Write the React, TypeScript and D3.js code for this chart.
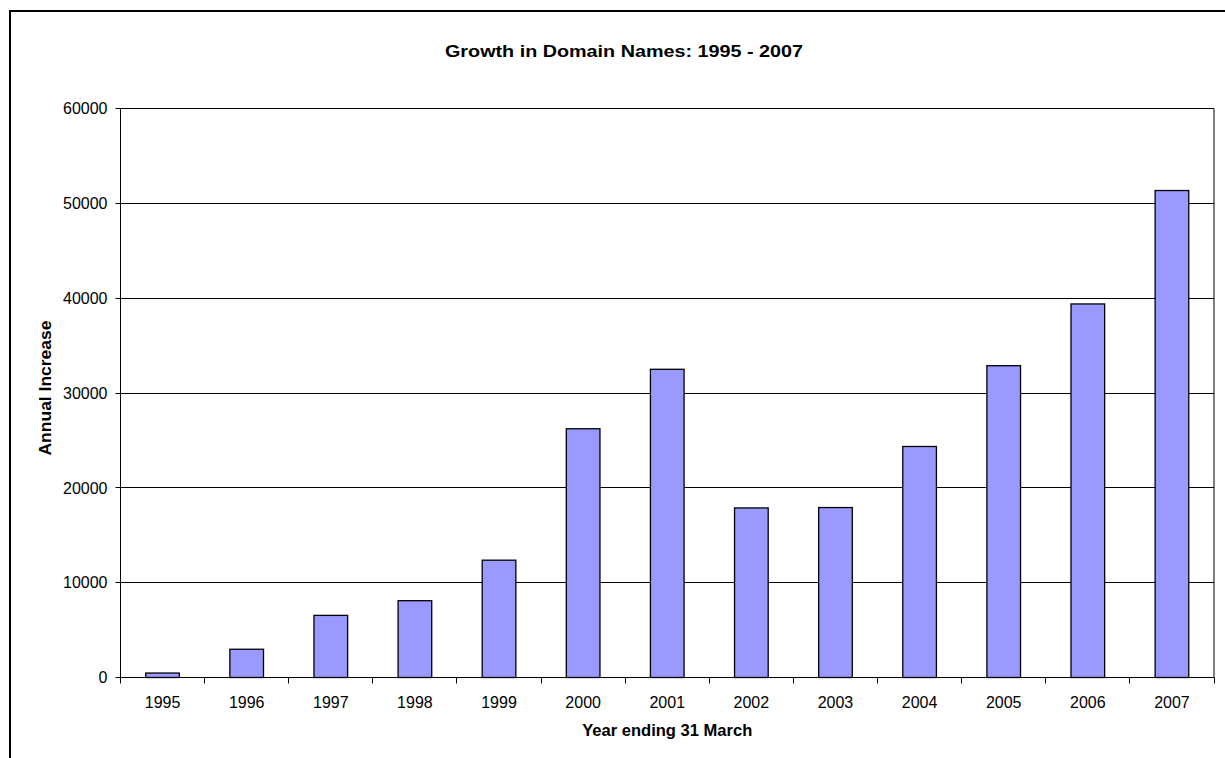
import React from "react";
import * as d3 from "d3";

// Growth in domain names, annual increase per year ending 31 March
const years = ["1995", "1996", "1997", "1998", "1999", "2000", "2001", "2002", "2003", "2004", "2005", "2006", "2007"];
const increases = [470, 2980, 6550, 8100, 12370, 26230, 32500, 17880, 17920, 24360, 32880, 39390, 51350];
const yTicks = [0, 10000, 20000, 30000, 40000, 50000, 60000];

const W = 1225;
const H = 758;
const margin = { top: 108.5, right: 11, bottom: 80.5, left: 120.5 };
const font = "'Liberation Sans', Arial, sans-serif";

export default function App() {
  const innerW = W - margin.left - margin.right;
  const innerH = H - margin.top - margin.bottom;

  // categories (for ticks) and bars (Excel style gap width 150%)
  const xCat = d3.scaleBand().domain(years).range([0, innerW]).padding(0);
  const xBar = d3.scaleBand().domain(years).range([0, innerW]).paddingInner(0.6).paddingOuter(0.3);
  const y = d3.scaleLinear().domain([0, 60000]).range([innerH, 0]);

  const boundaries = years.map((d) => xCat(d) as number).concat([innerW]);

  return (
    <svg width={W} height={H} style={{ position: "absolute", left: 0, top: 0, background: "#fff" }}>
      {/* outer chart frame, runs off the picture on right and bottom */}
      <rect x={10} y={11} width={1400} height={1000} fill="#fff" stroke="#000" strokeWidth={2} />

      <text x={624} y={57} textAnchor="middle" fontFamily={font} fontSize={17} fontWeight="bold"
        textLength={358} lengthAdjust="spacingAndGlyphs">
        Growth in Domain Names: 1995 - 2007
      </text>

      <g transform={`translate(${margin.left},${margin.top})`}>
        {/* gridlines */}
        {yTicks.map((t) => (
          <line key={"g" + t} x1={-5} x2={innerW} y1={Math.round(y(t))} y2={Math.round(y(t))} stroke="#000" strokeWidth={1} />
        ))}
        {yTicks.map((t) => (
          <text key={"l" + t} x={-13} y={y(t)} dy="0.36em" textAnchor="end" fontFamily={font} fontSize={16}>
            {t}
          </text>
        ))}

        {/* bars */}
        {years.map((yr, i) => (
          <rect
            key={yr}
            x={xBar(yr)}
            y={y(increases[i])}
            width={xBar.bandwidth()}
            height={innerH - y(increases[i])}
            fill="#9999FF"
            stroke="#000"
            strokeWidth={1.3}
          />
        ))}

        {/* plot area frame */}
        <line x1={0} x2={0} y1={0} y2={innerH} stroke="#000" />
        <line x1={innerW} x2={innerW} y1={0} y2={innerH} stroke="#000" />
        <line x1={0} x2={innerW} y1={innerH} y2={innerH} stroke="#000" />

        {/* x ticks at category boundaries */}
        {boundaries.map((b, i) => (
          <line key={"t" + i} x1={Math.round(b)} x2={Math.round(b)} y1={innerH} y2={innerH + 6} stroke="#000" />
        ))}
        {years.map((yr) => (
          <text key={"x" + yr} x={(xCat(yr) as number) + xCat.bandwidth() / 2} y={innerH + 30} textAnchor="middle" fontFamily={font} fontSize={16}>
            {yr}
          </text>
        ))}

        <text x={innerW / 2} y={innerH + 58} textAnchor="middle" fontFamily={font} fontSize={17} fontWeight="bold"
          textLength={170} lengthAdjust="spacingAndGlyphs">
          Year ending 31 March
        </text>
        <text
          transform={`translate(${51 - margin.left},${388 - margin.top}) rotate(-90)`}
          textAnchor="middle"
          fontFamily={font}
          fontSize={17}
          fontWeight="bold"
          textLength={135}
          lengthAdjust="spacingAndGlyphs"
        >
          Annual Increase
        </text>
      </g>
    </svg>
  );
}
